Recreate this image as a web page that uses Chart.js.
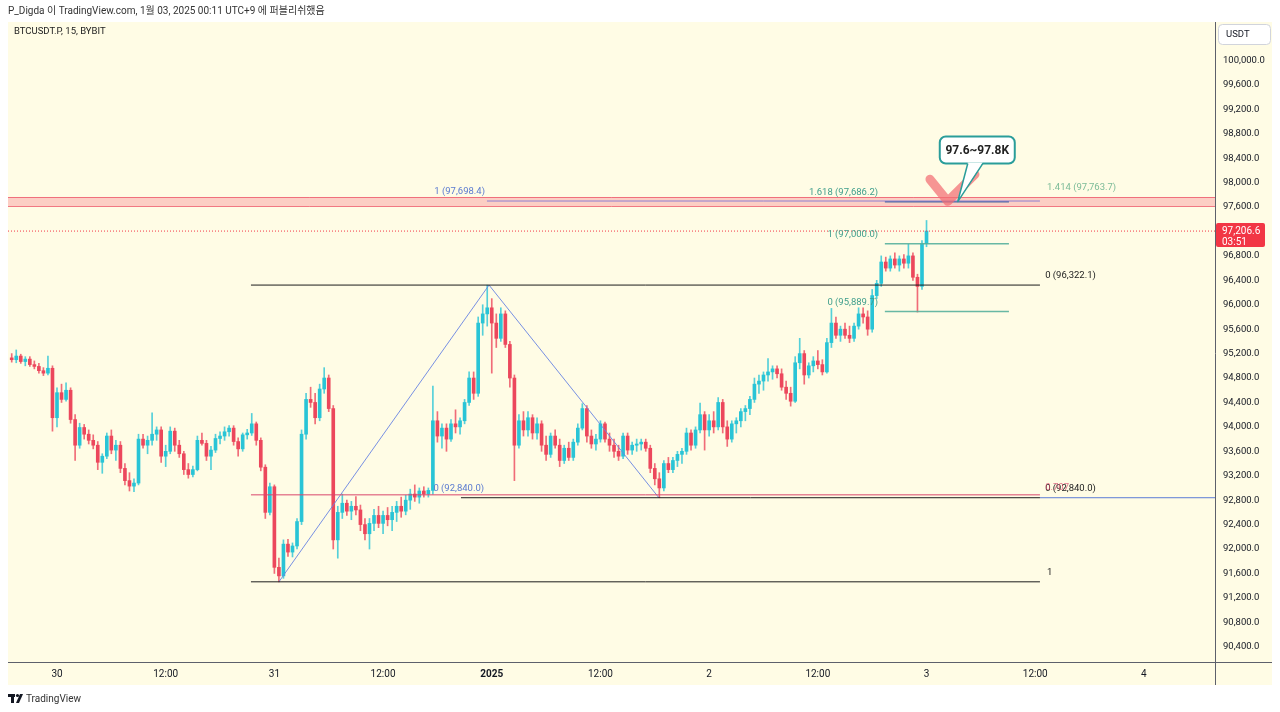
<!DOCTYPE html>
<html><head><meta charset="utf-8">
<script src="https://cdn.jsdelivr.net/npm/chart.js@4.4.1/dist/chart.umd.min.js"></script>
<style>html,body{margin:0;padding:0;background:#fff;overflow:hidden}canvas{display:block}</style>
</head><body>
<canvas id="c" width="1280" height="712"></canvas>
<script>
// 30-minute bars, index 0 = 30 Dec 00:00 (UTC+9); first bar = index -10
const firstIndex = -10;
const opens = [95130,95100,95160,95070,95110,95020,94990,94920,94880,94960,
94150,94560,94450,94600,94120,93700,93990,93880,93780,93700,93420,93520,93850,93620,93700,93320,93120,93030,93080,93800,
93700,93780,93880,93950,93520,93600,93930,93700,93560,93300,93220,93300,93780,93730,93520,93620,93810,93850,93920,93980,
93760,93640,93870,93900,94050,93780,93340,92600,93020,91700,91560,92080,91950,92050,92450,93880,94450,94400,94150,94620,
94800,94300,92150,92600,92750,92620,92700,92640,92400,92250,92420,92550,92420,92550,92480,92600,92700,92620,92800,92900,
92850,92950,92900,92960,94100,93850,93980,93800,94050,94000,94100,94400,94800,94550,95700,95850,95950,95700,95450,95850,
95350,94800,93700,94100,93950,94150,93900,94050,93700,93550,93850,93700,93450,93650,93500,93750,93980,94300,93850,93720,
93800,94050,93800,93700,93600,93520,93850,93620,93700,93720,93750,93650,93320,93150,93000,93400,93300,93450,93550,93600,
93900,93700,93950,94200,93950,94100,94000,94400,94000,93800,94050,94100,94250,94300,94450,94700,94750,94850,94900,94950,
94870,94650,94550,94420,95050,95200,94850,95000,95080,95020,94900,95380,95700,95500,95600,95500,95450,95650,95850,95800,
95600,96150,96350,96700,96600,96750,96650,96750,96680,96800,96450,96300,97000];
const highs = [95200,95260,95190,95150,95150,95080,95040,94970,95160,95000,
94640,94700,94720,94640,94200,94060,94040,93950,93870,93760,93560,93900,93950,93780,93760,93400,93250,93150,93880,93880,
93850,94230,94000,94000,93700,94000,93980,93780,93600,93400,93360,93850,93900,93780,93680,93880,93920,94000,94020,94020,
93820,93900,93960,94220,94080,93820,93380,93080,93050,91850,92150,92160,92100,92500,93950,94550,94650,94550,94700,94970,
94850,94350,92700,92900,92800,92780,92860,92720,92500,92500,92650,92700,92620,92680,92700,92780,92850,92880,92980,93050,
93000,93020,93000,94670,94250,94050,94050,94120,94280,94150,94450,94900,94900,95800,96000,96320,96100,95850,95950,95900,
95400,94850,94200,94250,94250,94200,94150,94100,93850,93900,93950,93800,93700,93750,93800,94050,94380,94350,93950,93880,
94100,94080,93900,93800,93700,93900,93900,93750,93800,93800,93800,93700,93400,93250,93450,93500,93500,93600,93650,93980,
93950,94000,94390,94250,94200,94250,94480,94450,94100,94100,94150,94300,94350,94500,94800,94850,94900,95120,95000,95000,
94950,94750,94650,95150,95450,95250,95050,95150,95250,95100,95450,95940,95800,95650,95700,95650,95700,95950,95950,95900,
96250,96400,96800,96780,96800,96850,96800,96820,96990,96850,96500,97050,97380];
const lows = [95060,95050,95040,95000,94990,94950,94880,94840,94850,93930,
94000,94400,94420,94060,93450,93650,93800,93720,93640,93300,93240,93480,93560,93450,93250,93050,92950,92940,93050,93650,
93560,93700,93780,93420,93350,93560,93600,93500,93220,93160,93180,93280,93700,93450,93300,93580,93720,93780,93850,93700,
93520,93600,93800,93860,93700,93280,92500,92560,91600,91460,91520,91880,91870,92000,92400,93800,94320,94050,94100,94550,
94250,92000,91850,92500,92550,92480,92560,92300,92150,92000,92300,92350,92250,92380,92300,92450,92520,92560,92650,92780,
92750,92850,92850,92900,93750,93650,93600,93760,93900,93880,94050,94350,94450,94500,95500,95650,94880,95300,95400,95300,
94650,93120,93650,93850,93850,93800,93800,93600,93450,93500,93650,93350,93400,93450,93450,93700,93950,93750,93650,93620,
93750,93750,93600,93500,93450,93480,93550,93550,93600,93620,93600,93250,93050,92840,92950,93250,93250,93350,93400,93550,
93620,93650,93900,93620,93850,93900,93950,93900,93680,93750,93900,94000,94100,94200,94400,94550,94600,94750,94780,94800,
94600,94450,94340,94400,94950,94700,94800,94900,94950,94850,94880,95300,95450,95400,95450,95380,95400,95600,95700,95500,
95550,96100,96300,96550,96550,96600,96550,96600,96600,96400,95880,96250,96950];
const closes = [95100,95160,95070,95110,95020,94990,94920,94880,94960,94150,
94560,94450,94600,94120,93700,93990,93880,93780,93700,93420,93520,93850,93620,93700,93320,93120,93030,93080,93800,93700,
93780,93880,93950,93520,93600,93930,93700,93560,93300,93220,93300,93780,93730,93520,93620,93810,93850,93920,93980,93760,
93640,93870,93900,94050,93780,93340,92600,93020,91700,91560,92080,91950,92050,92450,93880,94450,94400,94150,94620,94800,
94300,92150,92600,92750,92620,92700,92640,92400,92250,92420,92550,92420,92550,92480,92600,92700,92620,92800,92900,92850,
92950,92900,92960,94100,93850,93980,93800,94050,94000,94100,94400,94800,94550,95700,95850,95950,95700,95450,95850,95350,
94800,93700,94100,93950,94150,93900,94050,93700,93550,93850,93700,93450,93650,93500,93750,93980,94300,93850,93720,93800,
94050,93800,93700,93600,93520,93850,93620,93700,93720,93750,93650,93320,93150,93000,93400,93300,93450,93550,93600,93900,
93700,93950,94200,93950,94100,94000,94400,94000,93800,94050,94100,94250,94300,94450,94700,94750,94850,94900,94950,94870,
94650,94550,94420,95050,95200,94850,95000,95080,95020,94900,95380,95700,95500,95600,95500,95450,95650,95850,95800,95600,
96150,96350,96700,96600,96750,96650,96750,96680,96800,96450,96300,97000,97206.6];

const xTickValues = [0,24,48,72,96,120,144,168,192,216,240];
const xTickLabels = ['30','12:00','31','12:00','2025','12:00','2','12:00','3','12:00','4'];
const yTickValues = [90400,90800,91200,91600,92000,92400,92800,93200,93600,94000,94400,94800,95200,95600,96000,96400,96800,97200,97600,98000,98400,98800,99200,99600,100000];

// drawing tools (bar index, price)
const blackFibPrices = [96322.1, 91463.0];
const blackFibSpan = [42.83, 217.05];
const redLevelPrice = 92887.0;
const blueFibPrices = [92840.0, 97698.4];
const blueFibStarts = [89.2, 94.94];
const tealFibPrices = [95889.7, 97000.0, 97686.2];
const tealFibSpan = [182.8, 210.2];
const triangleIdx = [49.0, 95.4, 132.9];
const trianglePrices = [91463.0, 96322.1, 92840.0];
const zonePrices = [97612, 97765];
const lastPrice = 97206.6;
const checkIdx = [192.76, 196.7, 202.7];
const checkPrices = [98054, 97694, 98136];
const calloutAnchor = [198.9, 97690];

const X_MIN = -10.82, X_MAX = 255.7, Y_MIN = 90150, Y_MAX = 100630;
const FONT = 'Roboto, "Noto Sans", "Noto Sans CJK KR", sans-serif';
Chart.defaults.font.family = FONT;

const xs = opens.map((_, i) => firstIndex + i);
const up = closes.map((c, i) => c >= opens[i]);
const UP = 'rgb(41,196,214)', DN = 'rgb(236,71,92)';
const UPW = 'rgba(41,196,214,0.8)', DNW = 'rgba(236,71,92,0.8)';

function seg(x1, y1, x2, y2) { return [{x: x1, y: y1}, {x: x2, y: y2}]; }
function lineDs(data, color, width, dash) {
  return {type: 'line', data, borderColor: color, borderWidth: width || 1, borderDash: dash || [],
    pointRadius: 0, pointHoverRadius: 0, fill: false, tension: 0, order: 1};
}

const datasets = [
  {type: 'bar', data: xs.map((x, i) => ({x, y: [lows[i], highs[i]]})),
   backgroundColor: up.map(u => u ? UPW : DNW), barThickness: 1, grouped: false, order: 20, borderWidth: 0},
  {type: 'bar', data: xs.map((x, i) => ({x, y: [opens[i], closes[i]]})),
   backgroundColor: up.map(u => u ? UP : DN), barThickness: 3, minBarLength: 1, grouped: false, order: 19, borderWidth: 0},
  lineDs(seg(X_MIN, lastPrice, X_MAX, lastPrice), '#f23645', 1, [1, 2]),
  lineDs(seg(blackFibSpan[0], blackFibPrices[0], blackFibSpan[1], blackFibPrices[0]), '#1c1c1c', 1),
  lineDs(seg(blackFibSpan[0], blackFibPrices[1], blackFibSpan[1], blackFibPrices[1]), '#1c1c1c', 1),
  lineDs(seg(blackFibSpan[0], redLevelPrice, blackFibSpan[1], redLevelPrice), '#d9466c', 1),
  lineDs(seg(blueFibStarts[0], blueFibPrices[0], blackFibSpan[1], blueFibPrices[0]), '#1c1c1c', 1),
  lineDs(seg(blueFibStarts[1], blueFibPrices[1], blackFibSpan[1], blueFibPrices[1]), '#8c7fd2', 1),
  lineDs(seg(blackFibSpan[1], blueFibPrices[0], X_MAX, blueFibPrices[0]), '#5b7bd6', 1),
  lineDs(seg(tealFibSpan[0], tealFibPrices[0], tealFibSpan[1], tealFibPrices[0]), 'rgba(88,176,156,0.9)', 1.5),
  lineDs(seg(tealFibSpan[0], tealFibPrices[1], tealFibSpan[1], tealFibPrices[1]), 'rgba(88,176,156,0.9)', 1.5),
  lineDs(seg(tealFibSpan[0], tealFibPrices[2], tealFibSpan[1], tealFibPrices[2]), '#4f6b9c', 1.5),
  lineDs(triangleIdx.map((x, i) => ({x, y: trianglePrices[i]})), 'rgba(104,132,226,0.9)', 1)
];

const overlay = {
  id: 'overlay',
  beforeDraw(chart) {
    const ctx = chart.ctx;
    ctx.save();
    ctx.fillStyle = '#ffffff';
    ctx.fillRect(0, 0, chart.width, chart.height);
    ctx.fillStyle = 'rgb(255,252,229)';
    ctx.fillRect(8, 22, 1264, 663);
    ctx.restore();
  },
  beforeDatasetsDraw(chart) {
    const {ctx, chartArea: a, scales: {y}} = chart;
    const y1 = y.getPixelForValue(zonePrices[1]), y0 = y.getPixelForValue(zonePrices[0]);
    ctx.save();
    ctx.fillStyle = 'rgba(245,120,135,0.35)';
    ctx.fillRect(a.left, y1, a.right - a.left, y0 - y1);
    ctx.strokeStyle = 'rgba(236,80,100,0.75)';
    ctx.lineWidth = 1;
    ctx.beginPath();
    ctx.moveTo(a.left, Math.round(y1) + 0.5); ctx.lineTo(a.right, Math.round(y1) + 0.5);
    ctx.moveTo(a.left, Math.round(y0) + 0.5); ctx.lineTo(a.right, Math.round(y0) + 0.5);
    ctx.stroke();
    ctx.restore();
  },
  afterDraw(chart) {
    const {ctx, chartArea: a, scales: {x, y}} = chart;
    const px = v => x.getPixelForValue(v), py = v => y.getPixelForValue(v);
    ctx.save();
    // axis borders
    ctx.strokeStyle = '#5d606b'; ctx.lineWidth = 1;
    ctx.beginPath();
    ctx.moveTo(a.right + 0.5, 22); ctx.lineTo(a.right + 0.5, 685);
    ctx.moveTo(8, a.bottom + 0.5); ctx.lineTo(1272, a.bottom + 0.5);
    ctx.stroke();

    // check mark
    ctx.strokeStyle = 'rgba(242,110,115,0.72)';
    ctx.lineWidth = 9; ctx.lineCap = 'round'; ctx.lineJoin = 'round';
    ctx.beginPath();
    checkIdx.forEach((k, i) => { const X = px(k), Y = py(checkPrices[i]); i ? ctx.lineTo(X, Y) : ctx.moveTo(X, Y); });
    ctx.stroke();

    // callout
    const ax = px(calloutAnchor[0]), ay = py(calloutAnchor[1]);
    const bl = ax - 18, br = ax + 57, bt = ay - 65, bb = ay - 38;
    ctx.lineCap = 'butt';
    ctx.fillStyle = '#ffffff'; ctx.strokeStyle = '#2a9d9a'; ctx.lineWidth = 2;
    ctx.beginPath(); ctx.roundRect(bl, bt, br - bl, bb - bt, 6); ctx.fill(); ctx.stroke();
    ctx.beginPath(); ctx.moveTo(ax + 10, bb - 1); ctx.lineTo(ax, ay); ctx.lineTo(ax + 25, bb - 1); ctx.closePath(); ctx.fill();
    ctx.lineWidth = 1.5;
    ctx.beginPath(); ctx.moveTo(ax + 10, bb); ctx.lineTo(ax, ay); ctx.lineTo(ax + 25, bb); ctx.stroke();
    ctx.fillStyle = '#222'; ctx.font = 'bold 12px ' + FONT; ctx.textAlign = 'center'; ctx.textBaseline = 'middle';
    ctx.fillText('97.6~97.8K', (bl + br) / 2, (bt + bb) / 2 + 1);

    // fib labels
    ctx.font = '9.5px ' + FONT; ctx.textBaseline = 'middle';
    const lab = (t, k, p, align, color) => { ctx.textAlign = align; ctx.fillStyle = color; ctx.fillText(t, px(k), py(p) - 9); };
    lab('1 (97,698.4)', 94.5, blueFibPrices[1], 'right', '#5b7bd0');
    lab('0 (92,840.0)', 94.3, blueFibPrices[0], 'right', '#5b7bd0');
    lab('1.618 (97,686.2)', 181.3, tealFibPrices[2], 'right', '#3f9e8c');
    lab('1 (97,000.0)', 181.3, tealFibPrices[1], 'right', '#3f9e8c');
    lab('0 (95,889.7)', 181.3, tealFibPrices[0], 'right', '#3f9e8c');
    lab('1.414 (97,763.7)', 218.6, 97763.7, 'left', '#7dbb98');
    lab('0 (96,322.1)', 218.2, blackFibPrices[0], 'left', '#222');
    lab('1', 218.6, blackFibPrices[1], 'left', '#222');
    lab('0 (92,840.0)', 218.2, blueFibPrices[0], 'left', '#222');
    lab('0.707', 218.2, blueFibPrices[0] + 15, 'left', 'rgba(217,70,108,0.75)');

    // last price label
    const ly = py(lastPrice);
    ctx.fillStyle = '#f23645';
    ctx.beginPath(); ctx.roundRect(a.right + 1, ly - 8, 49, 24, 2); ctx.fill();
    ctx.fillStyle = '#fff'; ctx.textAlign = 'left'; ctx.font = '10px ' + FONT;
    ctx.fillText('97,206.6', a.right + 7, ly + 0.5);
    ctx.fillText('03:51', a.right + 7, ly + 11.5);

    // currency box
    ctx.fillStyle = '#fff'; ctx.strokeStyle = '#d1d4dc'; ctx.lineWidth = 1;
    ctx.beginPath(); ctx.roundRect(1218.5, 24.5, 52, 20, 4); ctx.fill(); ctx.stroke();
    ctx.fillStyle = '#131722'; ctx.font = '9.5px ' + FONT; ctx.textAlign = 'left';
    ctx.fillText('USDT', 1226, 35);

    // header / symbol / footer
    ctx.fillStyle = '#333'; ctx.font = '10px ' + FONT;
    ctx.fillText('P_Digda 이 TradingView.com, 1월 03, 2025 00:11 UTC+9 에 퍼블리쉬했음', 8, 11);
    ctx.font = '9.5px ' + FONT; ctx.fillStyle = '#222';
    ctx.fillText('BTCUSDT.P, 15, BYBIT', 14, 32);
    ctx.fillStyle = '#131722';
    ctx.fillRect(8, 694, 7, 3); ctx.fillRect(11, 694, 3, 9);
    ctx.beginPath(); ctx.arc(17.5, 695.5, 1.6, 0, Math.PI * 2); ctx.fill();
    ctx.beginPath(); ctx.moveTo(16, 703); ctx.lineTo(20, 694); ctx.lineTo(23, 694); ctx.lineTo(19, 703); ctx.closePath(); ctx.fill();
    ctx.font = '10px ' + FONT; ctx.fillStyle = '#333';
    ctx.fillText('TradingView', 26, 699);
    ctx.restore();
  }
};

new Chart(document.getElementById('c'), {
  type: 'bar',
  data: {datasets},
  options: {
    responsive: false, animation: false, devicePixelRatio: 1,
    layout: {padding: {left: 8, right: 8, top: 22, bottom: 27}},
    plugins: {legend: {display: false}, tooltip: {enabled: false}},
    events: [],
    scales: {
      x: {
        type: 'linear', position: 'bottom', min: X_MIN, max: X_MAX, offset: false,
        grid: {display: false, drawTicks: false}, border: {display: false},
        afterBuildTicks: s => { s.ticks = xTickValues.map(v => ({value: v})); },
        afterFit: s => { s.height = 23; },
        ticks: {autoSkip: false, maxRotation: 0, padding: 6, color: '#131722',
          font: c => ({size: 10, family: FONT, weight: c.index === 4 ? 'bold' : 'normal'}),
          callback: (v, i) => xTickLabels[i]}
      },
      y: {
        type: 'linear', position: 'right', min: Y_MIN, max: Y_MAX,
        grid: {display: false, drawTicks: false}, border: {display: false},
        afterBuildTicks: s => { s.ticks = yTickValues.map(v => ({value: v})); },
        afterFit: s => { s.width = 57; },
        ticks: {padding: 8, color: '#131722', font: {size: 9.5, family: FONT},
          callback: v => v.toLocaleString('en-US', {minimumFractionDigits: 1, maximumFractionDigits: 1})}
      }
    }
  },
  plugins: [overlay]
});
</script>
</body></html>
